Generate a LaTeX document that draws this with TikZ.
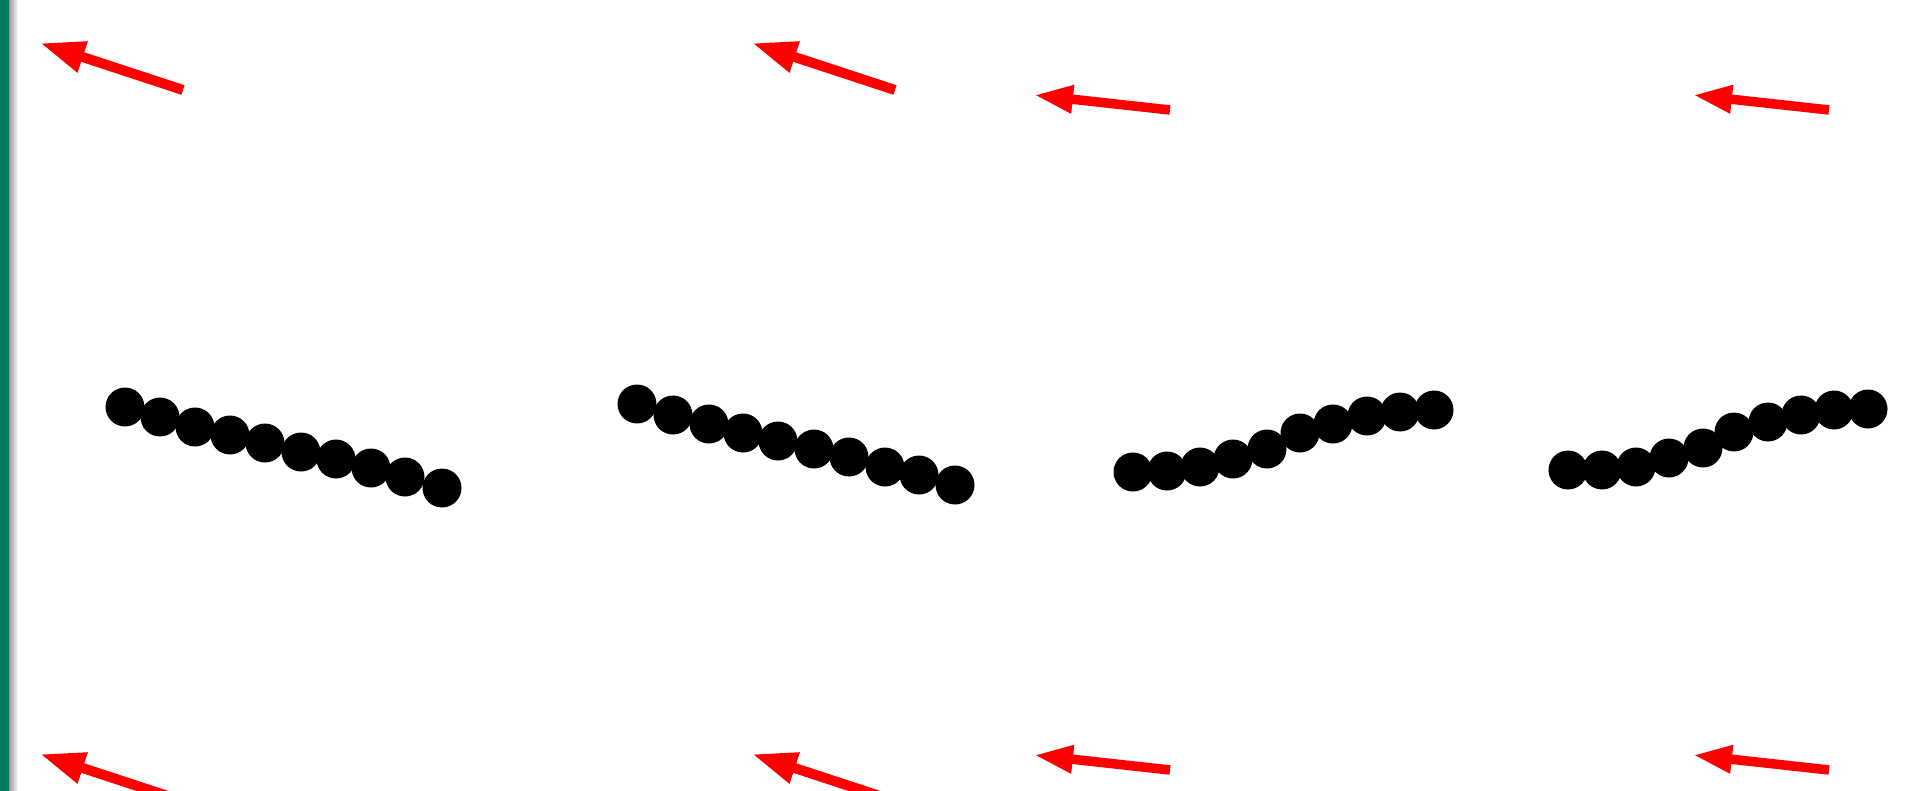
\documentclass[tikz,border=0pt]{standalone}
\usetikzlibrary{arrows.meta}
\definecolor{edgegreen}{RGB}{0,122,92}
\definecolor{vecred}{RGB}{255,0,0}
\tikzset{
  bead/.style={circle, fill=black, inner sep=0pt, minimum size=39pt},
  vecA/.style={draw=vecred, line width=10pt, -{Triangle[length=45pt,width=30pt]}},
  vecB/.style={draw=vecred, line width=9.5pt, -{Triangle[length=39pt,width=26pt]}},
}
\begin{document}
\begin{tikzpicture}[x=1pt,y=-1pt]
\useasboundingbox (0,0) rectangle (1908,791);
\clip (0,0) rectangle (1908,791);
\fill[white] (0,0) rectangle (1908,791);
% left frame strip
\fill[edgegreen] (0,0) rectangle (9,791);
\shade[left color=black!40, right color=white] (9,0) rectangle (18,791);
% group 1
\foreach \i/\x/\y in {1/125/407,2/160/417,3/195/427,4/230/435,5/265/443,6/301/452,7/336/459,8/371/468,9/405/477,10/442/488}
  \node[bead] (a\i) at (\x,\y) {};
% group 2
\foreach \i/\x/\y in {1/637/404,2/673/415,3/709/424,4/743/433,5/778/441,6/814/449,7/849/457,8/885/467,9/919/475,10/955/485}
  \node[bead] (b\i) at (\x,\y) {};
% group 3
\foreach \i/\x/\y in {1/1133/472,2/1167/471,3/1200/467,4/1233/459,5/1267/449,6/1300/433,7/1333/424,8/1367/416,9/1400/412,10/1434/410}
  \node[bead] (c\i) at (\x,\y) {};
% group 4
\foreach \i/\x/\y in {1/1568/470,2/1602/470,3/1636/467,4/1669/458,5/1703/448,6/1734/432,7/1768/422,8/1801/415,9/1834/410,10/1868/409}
  \node[bead] (d\i) at (\x,\y) {};
% arrows: tails and tips
\coordinate (t1) at (183,90);   \coordinate (h1) at (40,43);
\coordinate (t2) at (895,90);   \coordinate (h2) at (752,43);
\coordinate (t3) at (1170,110); \coordinate (h3) at (1034,95);
\coordinate (t4) at (1829,110); \coordinate (h4) at (1693,95);
\coordinate (t5) at (183,801);  \coordinate (h5) at (40,754);
\coordinate (t6) at (895,801);  \coordinate (h6) at (752,754);
\coordinate (t7) at (1170,770); \coordinate (h7) at (1034,755);
\coordinate (t8) at (1829,770); \coordinate (h8) at (1693,755);
\draw[vecA] (t1) -- (h1);
\draw[vecA] (t2) -- (h2);
\draw[vecB] (t3) -- (h3);
\draw[vecB] (t4) -- (h4);
\draw[vecA] (t5) -- (h5);
\draw[vecA] (t6) -- (h6);
\draw[vecB] (t7) -- (h7);
\draw[vecB] (t8) -- (h8);
\end{tikzpicture}
\end{document}
